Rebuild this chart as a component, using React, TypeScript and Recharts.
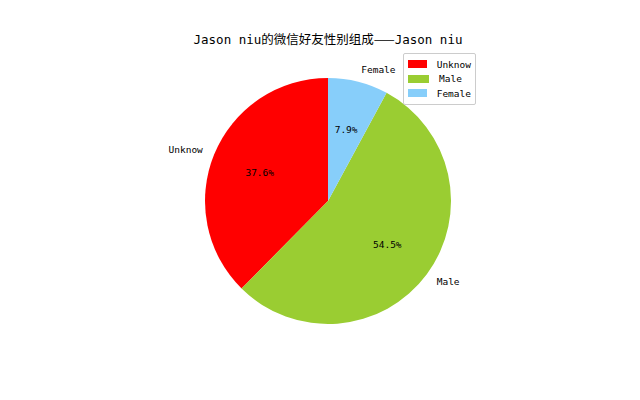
import React from "react";
import { PieChart, Pie, Cell, Legend } from "recharts";

const names = ["Unknow", "Male", "Female"];
const values = [37.6, 54.5, 7.9];
const colors = ["#ff0000", "#9acd32", "#87cefa"];
const titleStart = "Jason niu的微信好友性别组成";
const titleDash = "——";
const titleEnd = "Jason niu";

const data = names.map((name, i) => ({ name, value: values[i] }));

const FONT = '"DejaVu Sans Mono", "Noto Sans CJK SC", monospace';
const RADIAN = Math.PI / 180;

// name outside at 1.1 r, percentage inside at 0.6 r (matplotlib style)
const renderLabel = (props: any) => {
  const { cx, cy, midAngle, outerRadius, percent, name } = props;
  const cos = Math.cos(-midAngle * RADIAN);
  const sin = Math.sin(-midAngle * RADIAN);
  const nx = cx + outerRadius * 1.1 * cos;
  const ny = cy + outerRadius * 1.1 * sin;
  const px = cx + outerRadius * 0.6 * cos;
  const py = cy + outerRadius * 0.6 * sin;
  return (
    <g>
      <text
        x={nx}
        y={ny}
        textAnchor={cos >= 0 ? "start" : "end"}
        dominantBaseline="central"
        fontSize={9.5}
        fontFamily={FONT}
        fill="#000"
      >
        {name}
      </text>
      <text
        x={px}
        y={py}
        textAnchor="middle"
        dominantBaseline="central"
        fontSize={9.5}
        fontFamily={FONT}
        fill="#000"
      >
        {(percent * 100).toFixed(1) + "%"}
      </text>
    </g>
  );
};

const LegendBox = () => (
  <div
    style={{
      border: "1px solid #cccccc",
      borderRadius: 2,
      background: "#fff",
      padding: "3px 4px 3px 4px",
      fontFamily: FONT,
      fontSize: 9.5,
      width: 63,
    }}
  >
    {names.map((n, i) => (
      <div
        key={n}
        style={{ display: "flex", alignItems: "center", height: 14.5 }}
      >
        <div
          style={{
            width: 21,
            height: 8,
            background: colors[i],
            marginRight: 10,
          }}
        />
        <span>{n}</span>
      </div>
    ))}
  </div>
);

export default function App() {
  return (
    <div
      style={{
        position: "absolute",
        left: 0,
        top: 0,
        width: 640,
        height: 400,
        background: "#fff",
      }}
    >
      <div
        style={{
          position: "absolute",
          left: 0,
          width: 656,
          top: 29,
          textAlign: "center",
          fontFamily: FONT,
          fontSize: 12.5,
          color: "#000",
          whiteSpace: "nowrap",
        }}
      >
        {titleStart}
        <span style={{ fontFamily: '"Noto Sans CJK SC", sans-serif' }}>
          {titleDash}
        </span>
        {titleEnd}
      </div>
      <PieChart
        width={640}
        height={400}
        margin={{ top: 0, right: 0, bottom: 0, left: 0 }}
      >
        <Pie
          data={data}
          dataKey="value"
          nameKey="name"
          cx={328}
          cy={201}
          outerRadius={123}
          startAngle={90}
          endAngle={450}
          stroke="none"
          label={renderLabel}
          labelLine={false}
          isAnimationActive={false}
        >
          {data.map((d, i) => (
            <Cell key={d.name} fill={colors[i]} />
          ))}
        </Pie>
        <Legend
          content={<LegendBox />}
          layout="vertical"
          wrapperStyle={{ position: "absolute", left: 403, top: 53, width: 73 }}
        />
      </PieChart>
    </div>
  );
}
